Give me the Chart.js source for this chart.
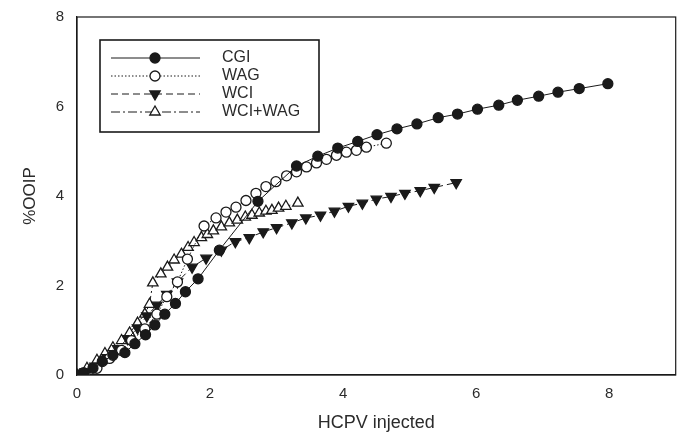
<!DOCTYPE html>
<html>
<head>
<meta charset="utf-8">
<script src="https://cdn.jsdelivr.net/npm/chart.js@4.4.1/dist/chart.umd.min.js"></script>
<style>
body { margin: 0; background: #fff; }
</style>
</head>
<body>
<canvas id="recoveryChart" width="683" height="438"></canvas>
<script>
// series (x = HCPV injected, y = %OOIP)
var seriesNames = ['CGI', 'WAG', 'WCI', 'WCI+WAG'];

var cgiX = [0, 0.1, 0.24, 0.38, 0.54, 0.72, 0.87, 1.03, 1.17, 1.32, 1.48, 1.63, 1.82, 2.14, 2.72, 3.30, 3.62, 3.92, 4.22, 4.51, 4.81, 5.11, 5.43, 5.72, 6.02, 6.34, 6.62, 6.94, 7.23, 7.55, 7.98];
var cgiY = [0, 0.05, 0.15, 0.30, 0.44, 0.50, 0.70, 0.90, 1.12, 1.36, 1.60, 1.86, 2.15, 2.79, 3.88, 4.67, 4.89, 5.07, 5.22, 5.37, 5.50, 5.61, 5.75, 5.83, 5.94, 6.03, 6.14, 6.23, 6.32, 6.40, 6.51];

var wagX = [0, 0.12, 0.30, 0.49, 0.67, 0.82, 1.02, 1.20, 1.35, 1.51, 1.66, 1.91, 2.09, 2.24, 2.39, 2.54, 2.69, 2.84, 2.99, 3.15, 3.30, 3.45, 3.60, 3.75, 3.90, 4.05, 4.20, 4.35, 4.65];
var wagY = [0, 0.02, 0.15, 0.37, 0.55, 0.77, 1.03, 1.36, 1.75, 2.08, 2.59, 3.33, 3.51, 3.64, 3.75, 3.90, 4.06, 4.21, 4.32, 4.45, 4.54, 4.65, 4.74, 4.82, 4.91, 4.98, 5.02, 5.09, 5.18];

var wciX = [0, 0.12, 0.27, 0.45, 0.61, 0.76, 0.91, 1.05, 1.20, 1.35, 1.51, 1.73, 1.94, 2.17, 2.38, 2.59, 2.80, 3.00, 3.23, 3.44, 3.66, 3.87, 4.08, 4.29, 4.50, 4.72, 4.93, 5.16, 5.37, 5.70];
var wciY = [0, 0.07, 0.20, 0.39, 0.59, 0.81, 1.05, 1.32, 1.56, 1.80, 2.08, 2.41, 2.61, 2.79, 2.98, 3.07, 3.20, 3.29, 3.40, 3.51, 3.57, 3.66, 3.77, 3.84, 3.93, 3.99, 4.06, 4.12, 4.19, 4.30];

var wciWagX = [0, 0.15, 0.30, 0.42, 0.54, 0.67, 0.79, 0.91, 1.02, 1.09, 1.14, 1.26, 1.36, 1.46, 1.57, 1.67, 1.76, 1.87, 1.96, 2.05, 2.17, 2.29, 2.41, 2.53, 2.63, 2.74, 2.84, 2.93, 3.03, 3.14, 3.32];
var wciWagY = [0, 0.15, 0.33, 0.48, 0.61, 0.77, 0.94, 1.16, 1.36, 1.58, 2.06, 2.26, 2.41, 2.57, 2.70, 2.85, 2.96, 3.07, 3.14, 3.22, 3.31, 3.40, 3.46, 3.53, 3.57, 3.62, 3.66, 3.68, 3.73, 3.77, 3.84];

var xMin = 0, xMax = 9, xStep = 0.4, xLabelEvery = 2;
var yMin = 0, yMax = 8, yStep = 2;

var ink = '#1a1a1a';
var textColor = '#2b2b2b';
var fontFamily = '"Liberation Sans", Arial, sans-serif';

function toPoints(xs, ys) {
    var pts = [];
    for (var i = 0; i < xs.length; i++) {
        pts.push({ x: xs[i], y: ys[i] });
    }
    return pts;
}

var seriesStyles = [
    { dash: [], pointStyle: 'circle', fill: ink, rotation: 0 },
    { dash: [1.5, 2], pointStyle: 'circle', fill: '#fff', rotation: 0 },
    { dash: [7, 4], pointStyle: 'triangle', fill: ink, rotation: 180 },
    { dash: [9, 3, 2, 3], pointStyle: 'triangle', fill: '#fff', rotation: 0 }
];
var seriesData = [toPoints(cgiX, cgiY), toPoints(wagX, wagY), toPoints(wciX, wciY), toPoints(wciWagX, wciWagY)];

var datasets = [];
for (var i = 0; i < seriesNames.length; i++) {
    var s = seriesStyles[i];
    datasets.push({
        label: seriesNames[i],
        data: seriesData[i],
        showLine: true,
        borderColor: ink,
        borderWidth: 1,
        borderDash: s.dash,
        backgroundColor: s.fill,
        pointStyle: s.pointStyle,
        pointRotation: s.rotation,
        pointRadius: s.pointStyle == 'circle' ? 5 : 6,
        pointBorderColor: ink,
        pointBorderWidth: 1.3,
        pointBackgroundColor: s.fill,
        tension: 0
    });
}

// box around plot + legend drawn inside the plot area
var framePlugin = {
    id: 'frameAndLegend',
    afterDraw: function (chart) {
        var ctx = chart.ctx;
        var a = chart.chartArea;
        ctx.save();
        ctx.strokeStyle = ink;
        ctx.lineWidth = 1.2;
        ctx.strokeRect(a.left, a.top, a.right - a.left, a.bottom - a.top);

        var boxX = a.left + 23, boxY = a.top + 23, boxW = 219, boxH = 92;
        ctx.fillStyle = '#fff';
        ctx.fillRect(boxX, boxY, boxW, boxH);
        ctx.lineWidth = 1.6;
        ctx.strokeRect(boxX, boxY, boxW, boxH);

        var rowY = [boxY + 18, boxY + 36, boxY + 54, boxY + 72];
        var ds = chart.data.datasets;
        ctx.font = '16px ' + fontFamily;
        ctx.textBaseline = 'middle';
        for (var i = 0; i < ds.length; i++) {
            var y = rowY[i];
            ctx.strokeStyle = ink;
            ctx.lineWidth = 1;
            ctx.setLineDash(ds[i].borderDash);
            ctx.beginPath();
            ctx.moveTo(boxX + 11, y);
            ctx.lineTo(boxX + 100, y);
            ctx.stroke();
            ctx.setLineDash([]);
            ctx.lineWidth = 1.3;
            ctx.fillStyle = ds[i].pointBackgroundColor;
            Chart.helpers.drawPoint(ctx, {
                pointStyle: ds[i].pointStyle,
                radius: ds[i].pointRadius,
                rotation: ds[i].pointRotation,
                borderWidth: 1.3
            }, boxX + 55, y);
            ctx.fillStyle = textColor;
            ctx.fillText(ds[i].label, boxX + 122, y);
        }
        ctx.restore();
    }
};

new Chart(document.getElementById('recoveryChart'), {
    type: 'scatter',
    data: { datasets: datasets },
    options: {
        responsive: false,
        animation: false,
        devicePixelRatio: 1,
        layout: { padding: { top: 10, right: 7, left: 0, bottom: 0 } },
        plugins: {
            legend: { display: false },
            tooltip: { enabled: false }
        },
        scales: {
            x: {
                type: 'linear',
                min: xMin,
                max: xMax,
                afterFit: function (scale) { scale.height = 63; },
                grid: { display: false, drawTicks: true, tickLength: 5, tickColor: ink },
                border: { display: true, color: ink, width: 1.2 },
                ticks: {
                    stepSize: xStep,
                    autoSkip: false,
                    maxRotation: 0,
                    padding: 5,
                    color: textColor,
                    font: { family: fontFamily, size: 15 },
                    callback: function (v) {
                        var r = v / xLabelEvery;
                        return Math.abs(r - Math.round(r)) < 1e-6 ? String(Math.round(v)) : '';
                    }
                },
                title: {
                    display: true,
                    text: 'HCPV injected',
                    color: textColor,
                    font: { family: fontFamily, size: 18 },
                    padding: { top: 0, bottom: 4 }
                }
            },
            y: {
                type: 'linear',
                min: yMin,
                max: yMax,
                afterFit: function (scale) { scale.width = 77; },
                grid: { display: false, drawTicks: true, tickLength: 5, tickColor: ink },
                border: { display: true, color: ink, width: 1.2 },
                ticks: {
                    stepSize: yStep,
                    padding: 8,
                    color: textColor,
                    font: { family: fontFamily, size: 15 }
                },
                title: {
                    display: true,
                    text: '%OOIP',
                    color: textColor,
                    font: { family: fontFamily, size: 17 },
                    padding: { top: 20, bottom: 0 }
                }
            }
        }
    },
    plugins: [framePlugin]
});
</script>
</body>
</html>
